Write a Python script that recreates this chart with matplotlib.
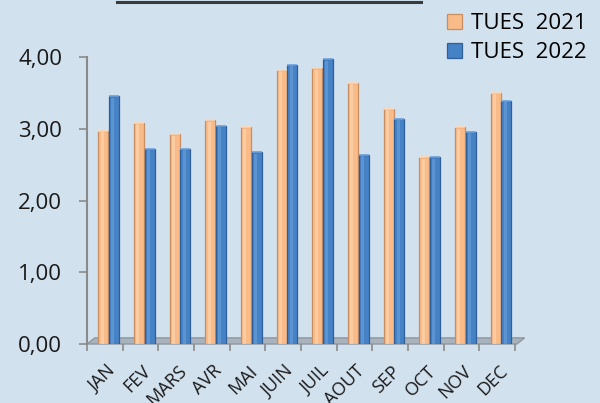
import numpy as np
import matplotlib
matplotlib.use("Agg")
import matplotlib.pyplot as plt
from matplotlib.patches import Polygon
from matplotlib.lines import Line2D
from matplotlib.ticker import FuncFormatter
import matplotlib.transforms as mtransforms

# -------------- DATA ---------------------------------------
months   = ["JAN", "FEV", "MARS", "AVR", "MAI", "JUIN",
            "JUIL", "AOUT", "SEP", "OCT", "NOV", "DEC"]
tues2021 = [2.97, 3.08, 2.92, 3.12, 3.02, 3.82, 3.84, 3.64, 3.28, 2.60, 3.02, 3.50]
tues2022 = [3.45, 2.72, 2.72, 3.04, 2.67, 3.89, 3.97, 2.64, 3.14, 2.60, 2.96, 3.39]
labels   = ["TUES  2021", "TUES  2022"]
yticks   = [0, 1, 2, 3, 4]

# -------------- STYLE --------------------------------------
bg        = "#d2e1ee"
c_orange  = "#f9bb88"
e_orange  = "#c98d62"
h_orange  = "#fdd9b8"
c_blue    = "#4682c6"
e_blue    = "#2f5f99"
h_blue    = "#6fa3dc"
axis_gray = "#8a8a8a"
bar_w     = 0.28
plt.rcParams["font.family"] = ["Open Sans", "DejaVu Sans"]

fig = plt.figure(figsize=(6.0, 4.03), dpi=100, facecolor=bg)
ax = fig.add_axes([87 / 600, 59 / 403, 428 / 600, 287 / 403])
ax.set_facecolor(bg)

x = np.arange(len(months))

# ── Floor (3D base) ─────────────────────────────────────────
floor = Polygon([(-0.5, 0), (11.55, 0), (11.77, 0.085), (-0.28, 0.085)],
                closed=True, facecolor="#a9b3bd", edgecolor="#8f979f",
                linewidth=1.0, clip_on=False, zorder=1)
ax.add_patch(floor)

# ── Bars with a bit of cylinder shading ─────────────────────
def shaded_bars(xpos, vals, face, edge, hi, label):
    bars = ax.bar(xpos, vals, width=bar_w, color=face, edgecolor=edge,
                  linewidth=0.9, zorder=3, label=label)
    ax.bar(xpos - bar_w * 0.12, np.array(vals) - 0.02, width=bar_w * 0.3,
           color=hi, alpha=0.55, linewidth=0, zorder=4)
    ax.scatter(xpos, vals, s=55, marker="_", color=hi, linewidths=1.2, zorder=5)
    return bars

b1 = shaded_bars(x - 0.04, tues2021, c_orange, e_orange, h_orange, labels[0])
b2 = shaded_bars(x + 0.26, tues2022, c_blue, e_blue, h_blue, labels[1])

# ── Axes styling ────────────────────────────────────────────
ax.set_xlim(-0.5, 11.5)
ax.set_ylim(0, 4)
for s in ["top", "right", "bottom"]:
    ax.spines[s].set_visible(False)
ax.spines["left"].set_color(axis_gray)
ax.spines["left"].set_linewidth(1.5)

ax.set_yticks(yticks)
ax.yaxis.set_major_formatter(FuncFormatter(lambda v, p: f"{v:.2f}".replace(".", ",")))
ax.tick_params(axis="y", direction="out", length=5.8, width=1.2, color=axis_gray,
               pad=12, labelsize=16, labelcolor="#1a1a1a")

ax.set_xticks(np.arange(-0.5, 12, 1))
ax.set_xticklabels([])
ax.set_xticks(x, minor=True)
ax.set_xticklabels(months, minor=True, rotation=45, ha="right",
                   va="top", rotation_mode="anchor", fontsize=13, color="#1a1a1a")
ax.tick_params(axis="x", which="major", direction="out", length=5.2, width=1.2,
               color=axis_gray)
ax.tick_params(axis="x", which="minor", length=0, pad=13)
offset = mtransforms.ScaledTranslation(1 / 100, 0, fig.dpi_scale_trans)
for lbl in ax.xaxis.get_minorticklabels():
    lbl.set_transform(lbl.get_transform() + offset)

# ── Legend ──────────────────────────────────────────────────
leg = fig.legend(handles=[b1, b2], labels=labels, loc="upper right",
                 bbox_to_anchor=(1.0, 1.0), frameon=False, fontsize=16,
                 handlelength=0.7, handleheight=0.7, handletextpad=0.4,
                 labelspacing=0.35, borderaxespad=0.2)

# ── Leftover line at the top ────────────────────────────────
fig.add_artist(Line2D([117 / 600, 421 / 600], [1 - 1.5 / 403, 1 - 1.5 / 403],
                      color="#3a3a3a", linewidth=2.2))

fig.savefig("out.png", dpi=100, facecolor=bg)
